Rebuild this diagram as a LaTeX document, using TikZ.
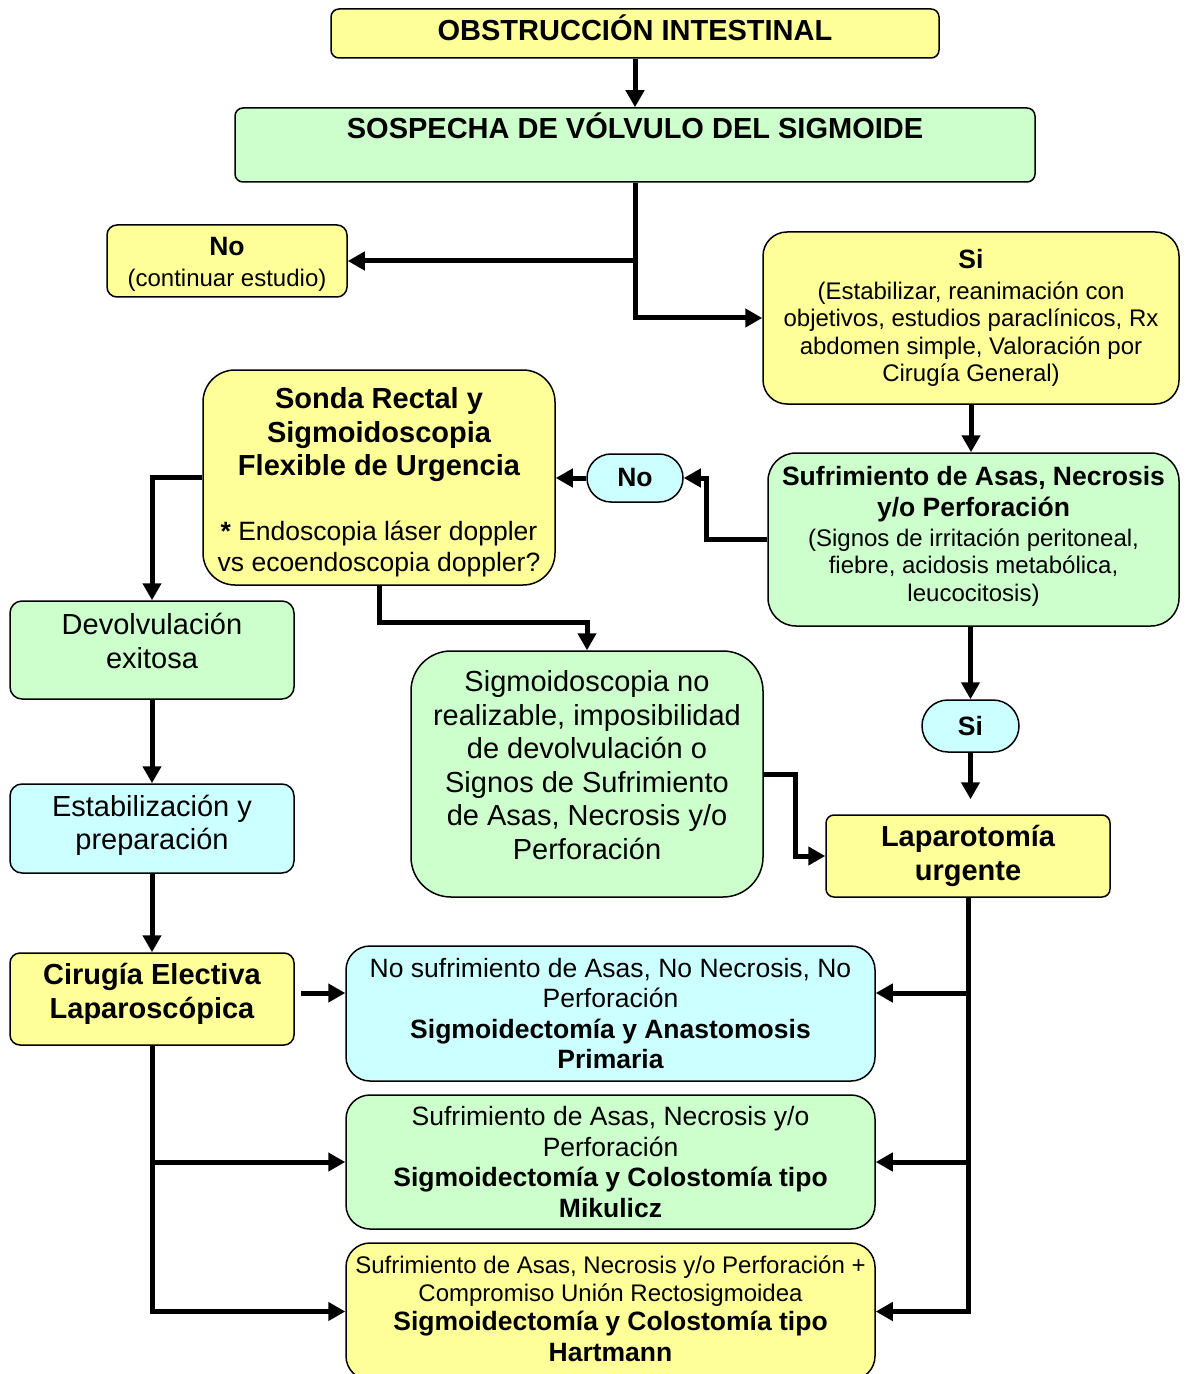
\documentclass[tikz,border=0pt]{standalone}
\usepackage{fontspec}
\setmainfont{Liberation Sans}
\usetikzlibrary{arrows.meta}
\definecolor{cyel}{HTML}{FFFF99}
\definecolor{cgrn}{HTML}{CCFFCC}
\definecolor{ccya}{HTML}{CCFFFF}
\newcommand\fA{\fontsize{14.5pt}{16.75pt}\selectfont}
\newcommand\fB{\fontsize{13.25pt}{15.25pt}\selectfont}
\newcommand\fC{\fontsize{12pt}{13.75pt}\selectfont}
\newcommand\padb[1]{\rule[-#1]{0pt}{0pt}}
\newcommand\padt[1]{\rule{0pt}{#1}}
\begin{document}
\begin{tikzpicture}[x=0.5pt,y=-0.5pt,
 box/.style={draw, line width=0.75pt, inner sep=0pt, align=center},
 corners/.style n args={4}{minimum width={(#3-#1)*0.5pt}, minimum height={(#4-#2)*0.5pt}, at={({(#1+#3)/2},{(#2+#4)/2})}},
 arr/.style={line width=2.5pt, -{Triangle[length=8.5pt,width=9pt]}},
]
\useasboundingbox (0,0) rectangle (1186,1374);

\node[box, fill=cyel, rounded corners=4pt, corners={331}{9}{939}{58}, font=\fA\bfseries] (obs) {OBSTRUCCIÓN INTESTINAL\padb{6pt}};
\node[box, fill=cgrn, rounded corners=4pt, corners={235}{108}{1035}{182}, font=\fA\bfseries] (sos) {SOSPECHA DE VÓLVULO DEL SIGMOIDE\padb{19pt}};
\node[box, fill=cyel, rounded corners=5pt, corners={107}{225}{347}{297}, font=\fC] (nob) {{\fB\bfseries No\padt{12.5pt}}\\[1.75pt](continuar estudio)};
\node[box, fill=cyel, rounded corners=12pt, corners={763}{232}{1179}{404}, font=\fC] (si) {{\fB\bfseries Si}\\[1.75pt](Estabilizar, reanimación con\\objetivos, estudios paraclínicos, Rx\\abdomen simple, Valoración por\\Cirugía General)};
\node[box, fill=cyel, rounded corners=16pt, corners={203}{370}{555}{585}, font=\fA] (sonda) {{\bfseries Sonda Rectal y\padt{15.6pt}}\\{\bfseries Sigmoidoscopia}\\{\bfseries Flexible de Urgencia}\\[15.75pt]{\fB\textbf{*} Endoscopia láser doppler}\\[-1.25pt]{\fB vs ecoendoscopia doppler?}};
\node[box, fill=ccya, rounded corners=12pt, corners={587}{454}{683}{502}, font=\fB\bfseries] (nop) {No};
\node[box, fill=cgrn, rounded corners=14pt, corners={768}{453}{1179}{626}, font=\fC] (suf) {{\fB\bfseries Sufrimiento de Asas, Necrosis}\\[1.75pt]{\fB\bfseries y/o Perforación}\\[1.25pt](Signos de irritación peritoneal,\\fiebre, acidosis metabólica,\\leucocitosis)\padb{6pt}};
\node[box, fill=cgrn, rounded corners=6pt, corners={10}{601}{294}{699}, font=\fA] (devo) {Devolvulación\\exitosa\padb{9pt}};
\node[box, fill=cgrn, rounded corners=20pt, corners={411}{651}{763}{897}, font=\fA] (sigm) {Sigmoidoscopia no\\realizable, imposibilidad\\de devolvulación o\\Signos de Sufrimiento\\de Asas, Necrosis y/o\\Perforación\padb{9pt}};
\node[box, fill=ccya, rounded corners=13pt, corners={922}{700}{1019}{752}, font=\fB\bfseries] (sip) {Si};
\node[box, fill=ccya, rounded corners=6pt, corners={10}{784}{294}{873}, font=\fA] (esta) {Estabilización y\\preparación\padb{6pt}};
\node[box, fill=cyel, rounded corners=4pt, corners={826}{815}{1110}{897}, font=\fA\bfseries] (lap) {Laparotomía\\urgente};
\node[box, fill=cyel, rounded corners=5pt, corners={10}{953}{294}{1045}, font=\fA\bfseries] (cir) {Cirugía Electiva\\Laparoscópica\padb{8pt}};
\node[box, fill=ccya, rounded corners=12pt, corners={346}{946}{875}{1081}, font=\fB] (bA) {No sufrimiento de Asas, No Necrosis, No\\Perforación\\{\bfseries Sigmoidectomía y Anastomosis}\\{\bfseries Primaria}};
\node[box, fill=cgrn, rounded corners=12pt, corners={346}{1095}{875}{1229}, font=\fB] (bB) {Sufrimiento de Asas, Necrosis y/o\\Perforación\\{\bfseries Sigmoidectomía y Colostomía tipo}\\{\bfseries Mikulicz}};
\node[box, fill=cyel, rounded corners=12pt, corners={346}{1243}{875}{1380}, font=\fC] (bC) {Sufrimiento de Asas, Necrosis y/o Perforación +\\[0.25pt]Compromiso Unión Rectosigmoidea\\[0.75pt]{\fB\bfseries Sigmoidectomía y Colostomía tipo}\\[1.75pt]{\fB\bfseries Hartmann\padb{2.5pt}}};

\draw[arr] (obs.south) -- (sos.north);
\draw[arr] (sos.south) |- (nob.east);
\draw[arr] (sos.south) |- (si.west);
\draw[arr] (si.south) -- (si.south |- suf.north);
\draw[arr] (suf.west) -- ++(-61,0) |- (nop.east);
\draw[arr] (nop.west) -- (sonda.east |- nop.west);
\draw[arr] (sonda.west) -| (devo.north);
\draw[arr] (sonda.south) -- ++(0,37) -| (sigm.north);
\draw[arr] (sip.north |- suf.south) -- (sip.north);
\draw[arr, shorten >=7.5pt] (sip.south) -- (sip.south |- lap.north);
\draw[arr] (sigm.east) -- ++(32,0) |- (lap.west);
\draw[arr] (devo.south) -- (esta.north);
\draw[arr] (esta.south) -- (cir.north);
\path ([shift={(6,-6)}]cir.east) coordinate (c1);
\draw[arr] (c1) -- (c1 -| bA.west);
\draw[arr] (cir.south) |- (bB.west);
\draw[arr] (cir.south) |- (bC.west);
\draw[arr] (lap.south) |- (c1 -| bA.east);
\draw[arr] (lap.south) |- (bB.east);
\draw[arr] (lap.south) |- (bC.east);
\end{tikzpicture}
\end{document}
